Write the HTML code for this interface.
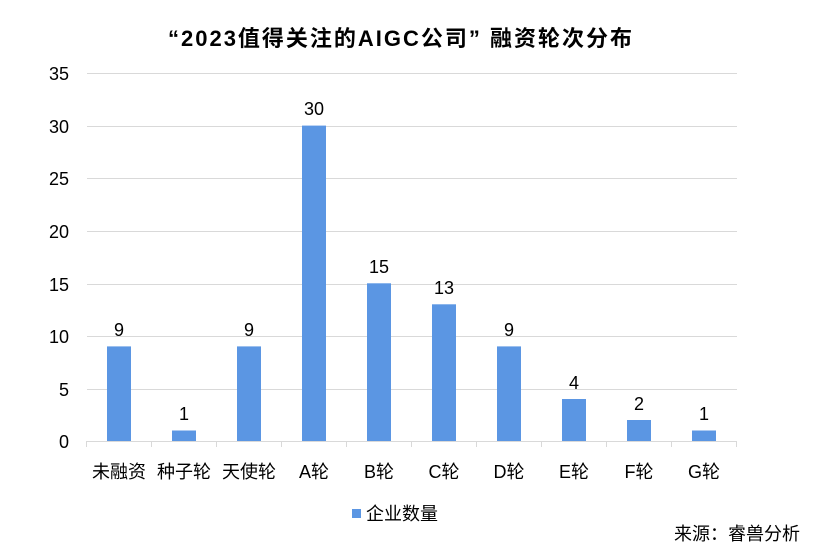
<!DOCTYPE html>
<html><head><meta charset="utf-8"><style>
body{margin:0;background:#fff}
svg{display:block;font-family:"Liberation Sans","Noto Sans CJK SC",sans-serif}
</style></head><body>
<svg width="825" height="558" viewBox="0 0 825 558">
<rect width="825" height="558" fill="#fff"/>
<text x="168" y="46" font-size="22" font-weight="bold" fill="#000" textLength="464" lengthAdjust="spacing">“2023值得关注的AIGC公司” 融资轮次分布</text>
<g stroke="#d9d9d9" stroke-width="1">
<line x1="87" x2="737" y1="73.5" y2="73.5"/>
<line x1="87" x2="737" y1="126.5" y2="126.5"/>
<line x1="87" x2="737" y1="178.5" y2="178.5"/>
<line x1="87" x2="737" y1="231.5" y2="231.5"/>
<line x1="87" x2="737" y1="284.5" y2="284.5"/>
<line x1="87" x2="737" y1="336.5" y2="336.5"/>
<line x1="87" x2="737" y1="389.5" y2="389.5"/>
<line x1="86" x2="737" y1="441.5" y2="441.5"/>
<line x1="86.5" x2="86.5" y1="441" y2="447"/>
<line x1="151.5" x2="151.5" y1="441" y2="447"/>
<line x1="216.5" x2="216.5" y1="441" y2="447"/>
<line x1="281.5" x2="281.5" y1="441" y2="447"/>
<line x1="346.5" x2="346.5" y1="441" y2="447"/>
<line x1="411.5" x2="411.5" y1="441" y2="447"/>
<line x1="476.5" x2="476.5" y1="441" y2="447"/>
<line x1="541.5" x2="541.5" y1="441" y2="447"/>
<line x1="606.5" x2="606.5" y1="441" y2="447"/>
<line x1="671.5" x2="671.5" y1="441" y2="447"/>
<line x1="736.5" x2="736.5" y1="441" y2="447"/>
</g>
<g font-size="18" fill="#000" text-anchor="end">
<text x="69" y="80">35</text><text x="69" y="133">30</text><text x="69" y="185">25</text>
<text x="69" y="238">20</text><text x="69" y="291">15</text><text x="69" y="343">10</text>
<text x="69" y="396">5</text><text x="69" y="448">0</text>
</g>
<g fill="#5b96e3">
<rect x="107" y="346.4" width="24" height="94.6"/>
<rect x="172" y="430.5" width="24" height="10.5"/>
<rect x="237" y="346.4" width="24" height="94.6"/>
<rect x="302" y="125.6" width="24" height="315.4"/>
<rect x="367" y="283.3" width="24" height="157.7"/>
<rect x="432" y="304.3" width="24" height="136.7"/>
<rect x="497" y="346.4" width="24" height="94.6"/>
<rect x="562" y="399" width="24" height="42"/>
<rect x="627" y="420" width="24" height="21"/>
<rect x="692" y="430.5" width="24" height="10.5"/>
</g>
<g font-size="18" fill="#000" text-anchor="middle">
<text x="119" y="336">9</text><text x="184" y="420">1</text><text x="249" y="336">9</text>
<text x="314" y="115">30</text><text x="379" y="273">15</text><text x="444" y="294">13</text>
<text x="509" y="336">9</text><text x="574" y="389">4</text><text x="639" y="410">2</text>
<text x="704" y="420">1</text>
</g>
<g font-size="18" fill="#000" text-anchor="middle">
<text x="119" y="478">未融资</text><text x="184" y="478">种子轮</text><text x="249" y="478">天使轮</text>
<text x="314" y="478">A轮</text><text x="379" y="478">B轮</text><text x="444" y="478">C轮</text>
<text x="509" y="478">D轮</text><text x="574" y="478">E轮</text><text x="639" y="478">F轮</text>
<text x="704" y="478">G轮</text>
</g>
<rect x="352" y="509" width="9" height="9" fill="#5b96e3"/>
<text x="366" y="520" font-size="18" fill="#000">企业数量</text>
<text x="800" y="540" font-size="18" fill="#000" text-anchor="end">来源：睿兽分析</text>
</svg>
</body></html>
